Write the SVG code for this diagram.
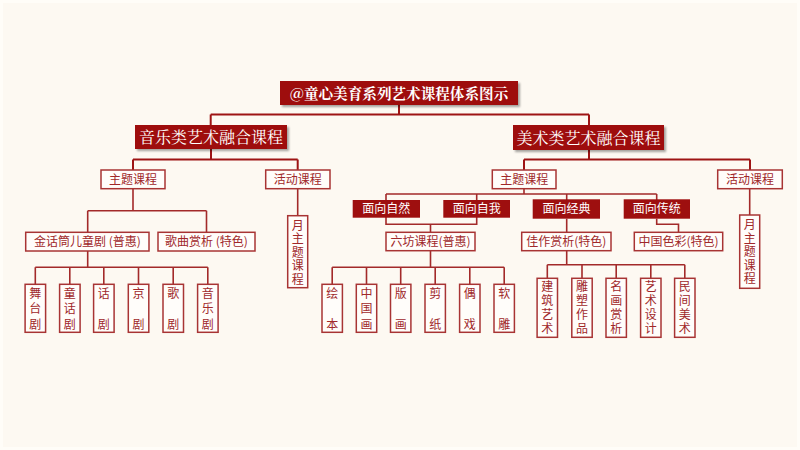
<svg xmlns="http://www.w3.org/2000/svg" width="800" height="450" viewBox="0 0 800 450">
<style>
.bg{fill:#FDF9F2}
.ln{fill:none;stroke:#9E1414;stroke-width:2}
.ln2{fill:none;stroke:#A32A2A;stroke-width:1.6}
.dk{fill:#9E0F0F}
.ob{fill:#FFFDFA;stroke:#A83434;stroke-width:1.5}
.tw{fill:#FFFFFF;font-family:"Noto Serif CJK SC","Noto Sans CJK SC",serif;text-anchor:middle}
.tw2{fill:#FFFFFF;font-family:"Noto Sans CJK SC",sans-serif;font-size:12px;text-anchor:middle}
.tr{fill:#A0282A;font-family:"Noto Sans CJK SC",sans-serif;font-size:12px;text-anchor:middle}
.tv{fill:#A0282A;font-family:"Noto Sans CJK SC",sans-serif;font-size:12px;writing-mode:vertical-rl;text-anchor:start}
.v2{letter-spacing:18.8px}
.v3{letter-spacing:3.5px}
.v4{letter-spacing:2.1px}
.v5{letter-spacing:1.5px}
</style>
<defs>
<filter id="sh" x="-10%" y="-30%" width="120%" height="170%">
<feDropShadow dx="2" dy="2" stdDeviation="1.2" flood-color="#000" flood-opacity="0.35"/>
</filter>
</defs>
<rect class="bg" x="0" y="0" width="800" height="450"/>
<rect x="1.5" y="1.5" width="797" height="447" fill="none" stroke="#FFFDF8" stroke-width="3"/>

<g id="connectors">
<path class="ln" d="M399,105 V114.5 M210.7,114.5 H589 M210.7,114.5 V125 M589,114.5 V125"/>
<path class="ln" d="M211,149 V159.5 M133,159.5 H297.7 M133,159.5 V170 M297.7,159.5 V170"/>
<path class="ln2" d="M133,188.7 V210.7 M87.7,210.7 H206.5 M87.7,210.7 V232.3 M206.5,210.7 V232.3"/>
<path class="ln2" d="M87.7,251 V267.3 M35.3,267.3 H207.8 M35.3,267.3 V284.3 M69.8,267.3 V284.3 M103.8,267.3 V284.3 M138.5,267.3 V284.3 M173.2,267.3 V284.3 M207.8,267.3 V284.3"/>
<path class="ln2" d="M297.7,188.7 V215.7"/>
<path class="ln" d="M589,150 V159.5 M524,159.5 H750 M524,159.5 V170 M750,159.5 V170"/>
<path class="ln2" d="M524,188.7 V194 M386,194 H656.7 M386,194 V224.3 H476.7 V194 M566.7,194 V200 M656.7,194 V200 M430.5,224.3 V232.3"/>
<path class="ln2" d="M566.7,218.7 V232.3 M656.7,218.7 V224.3 H678.5 V232.3"/>
<path class="ln2" d="M430.5,250.7 V267.3 M332.2,267.3 H504.2 M332.2,267.3 V284.3 M366.5,267.3 V284.3 M400.7,267.3 V284.3 M435.2,267.3 V284.3 M469.8,267.3 V284.3 M504.2,267.3 V284.3"/>
<path class="ln2" d="M566.7,250.7 V264.7 M547.3,264.7 H684.8 M547.3,264.7 V278.3 M582,264.7 V278.3 M616.2,264.7 V278.3 M650.8,264.7 V278.3 M684.8,264.7 V278.3"/>
<path class="ln2" d="M749.7,188.7 V215"/>
</g>

<g id="title">
<rect class="dk" x="280" y="81" width="238" height="24" filter="url(#sh)"/>
<text class="tw" x="399" y="98.5" font-size="14.6" font-weight="bold">@童心美育系列艺术课程体系图示</text>
</g>

<g id="music">
<rect class="dk" x="135" y="125" width="152" height="24" filter="url(#sh)"/>
<text class="tw" x="211" y="143" font-size="16">音乐类艺术融合课程</text>
</g>
<g id="art">
<rect class="dk" x="513" y="125" width="151" height="25" filter="url(#sh)"/>
<text class="tw" x="588.5" y="143.5" font-size="16">美术类艺术融合课程</text>
</g>

<g id="m-theme">
<rect class="ob" x="101" y="170" width="64" height="18.7"/>
<text class="tr" x="133" y="183.6">主题课程</text>
</g>
<g id="m-activity">
<rect class="ob" x="265.7" y="170" width="64.3" height="18.7"/>
<text class="tr" x="297.8" y="183.6">活动课程</text>
</g>
<g id="m-month">
<rect class="ob" x="287.7" y="215.7" width="20" height="72"/>
<text class="tv v5" x="297.7" y="219">月主题课程</text>
</g>
<g id="m-drama">
<rect class="ob" x="25.7" y="232.3" width="123.3" height="18.7"/>
<text class="tr" x="87.4" y="246">金话筒儿童剧 (普惠)</text>
</g>
<g id="m-song">
<rect class="ob" x="158" y="232.3" width="97" height="18.7"/>
<text class="tr" x="206.5" y="246">歌曲赏析 (特色)</text>
</g>

<g id="leaf-m1"><rect class="ob" x="25.1" y="284.3" width="20.5" height="48"/>
<text class="tv v3" x="35.3" y="287.2">舞台剧</text></g>
<g id="leaf-m2"><rect class="ob" x="59.6" y="284.3" width="20.5" height="48"/>
<text class="tv v3" x="69.8" y="287.2">童话剧</text></g>
<g id="leaf-m3"><rect class="ob" x="93.6" y="284.3" width="20.5" height="48"/>
<text class="tv v2" x="103.8" y="287.2">话剧</text></g>
<g id="leaf-m4"><rect class="ob" x="128.3" y="284.3" width="20.5" height="48"/>
<text class="tv v2" x="138.5" y="287.2">京剧</text></g>
<g id="leaf-m5"><rect class="ob" x="163" y="284.3" width="20.5" height="48"/>
<text class="tv v2" x="173.2" y="287.2">歌剧</text></g>
<g id="leaf-m6"><rect class="ob" x="197.6" y="284.3" width="20.5" height="48"/>
<text class="tv v3" x="207.8" y="287.2">音乐剧</text></g>

<g id="a-theme">
<rect class="ob" x="492.3" y="170" width="63.7" height="18.7"/>
<text class="tr" x="524.2" y="183.6">主题课程</text>
</g>
<g id="a-activity">
<rect class="ob" x="717.7" y="170" width="64.6" height="18.7"/>
<text class="tr" x="750" y="183.6">活动课程</text>
</g>
<g id="a-month">
<rect class="ob" x="739.7" y="215" width="20" height="73.3"/>
<text class="tv v5" x="749.7" y="218.7">月主题课程</text>
</g>

<g id="face-nature">
<rect class="dk" x="352.7" y="200" width="67.3" height="17.7"/>
<text class="tw2" x="386.3" y="213.2">面向自然</text>
</g>
<g id="face-self">
<rect class="dk" x="443.3" y="200" width="66.7" height="17.7"/>
<text class="tw2" x="476.7" y="213.2">面向自我</text>
</g>
<g id="face-classic">
<rect class="dk" x="532.7" y="199.3" width="67.3" height="19.4"/>
<text class="tw2" x="566.4" y="213.3">面向经典</text>
</g>
<g id="face-tradition">
<rect class="dk" x="623.7" y="199.3" width="66.3" height="19.4"/>
<text class="tw2" x="656.8" y="213.3">面向传统</text>
</g>

<g id="liufang">
<rect class="ob" x="386" y="232.3" width="89" height="18.4"/>
<text class="tr" x="430.5" y="245.8">六坊课程(普惠)</text>
</g>
<g id="jiazuo">
<rect class="ob" x="521.7" y="232.3" width="89.3" height="18.4"/>
<text class="tr" x="566.3" y="245.8">佳作赏析(特色)</text>
</g>
<g id="secai">
<rect class="ob" x="634.3" y="232.3" width="88.4" height="18.4"/>
<text class="tr" x="678.5" y="245.8">中国色彩(特色)</text>
</g>

<g id="leaf-l1"><rect class="ob" x="322" y="284.3" width="20.4" height="48"/>
<text class="tv v2" x="332.2" y="287.2">绘本</text></g>
<g id="leaf-l2"><rect class="ob" x="356.3" y="284.3" width="20.4" height="48"/>
<text class="tv v3" x="366.5" y="287.2">中国画</text></g>
<g id="leaf-l3"><rect class="ob" x="390.5" y="284.3" width="20.4" height="48"/>
<text class="tv v2" x="400.7" y="287.2">版画</text></g>
<g id="leaf-l4"><rect class="ob" x="425" y="284.3" width="20.4" height="48"/>
<text class="tv v2" x="435.2" y="287.2">剪纸</text></g>
<g id="leaf-l5"><rect class="ob" x="459.6" y="284.3" width="20.4" height="48"/>
<text class="tv v2" x="469.8" y="287.2">偶戏</text></g>
<g id="leaf-l6"><rect class="ob" x="494" y="284.3" width="20.4" height="48"/>
<text class="tv v2" x="504.2" y="287.2">软雕</text></g>

<g id="leaf-j1"><rect class="ob" x="537.1" y="278.3" width="20.4" height="59"/>
<text class="tv v4" x="547.3" y="280">建筑艺术</text></g>
<g id="leaf-j2"><rect class="ob" x="571.8" y="278.3" width="20.4" height="59"/>
<text class="tv v4" x="582" y="280">雕塑作品</text></g>
<g id="leaf-j3"><rect class="ob" x="606" y="278.3" width="20.4" height="59"/>
<text class="tv v4" x="616.2" y="280">名画赏析</text></g>
<g id="leaf-j4"><rect class="ob" x="640.6" y="278.3" width="20.4" height="59"/>
<text class="tv v4" x="650.8" y="280">艺术设计</text></g>
<g id="leaf-j5"><rect class="ob" x="674.6" y="278.3" width="20.4" height="59"/>
<text class="tv v4" x="684.8" y="280">民间美术</text></g>
</svg>
